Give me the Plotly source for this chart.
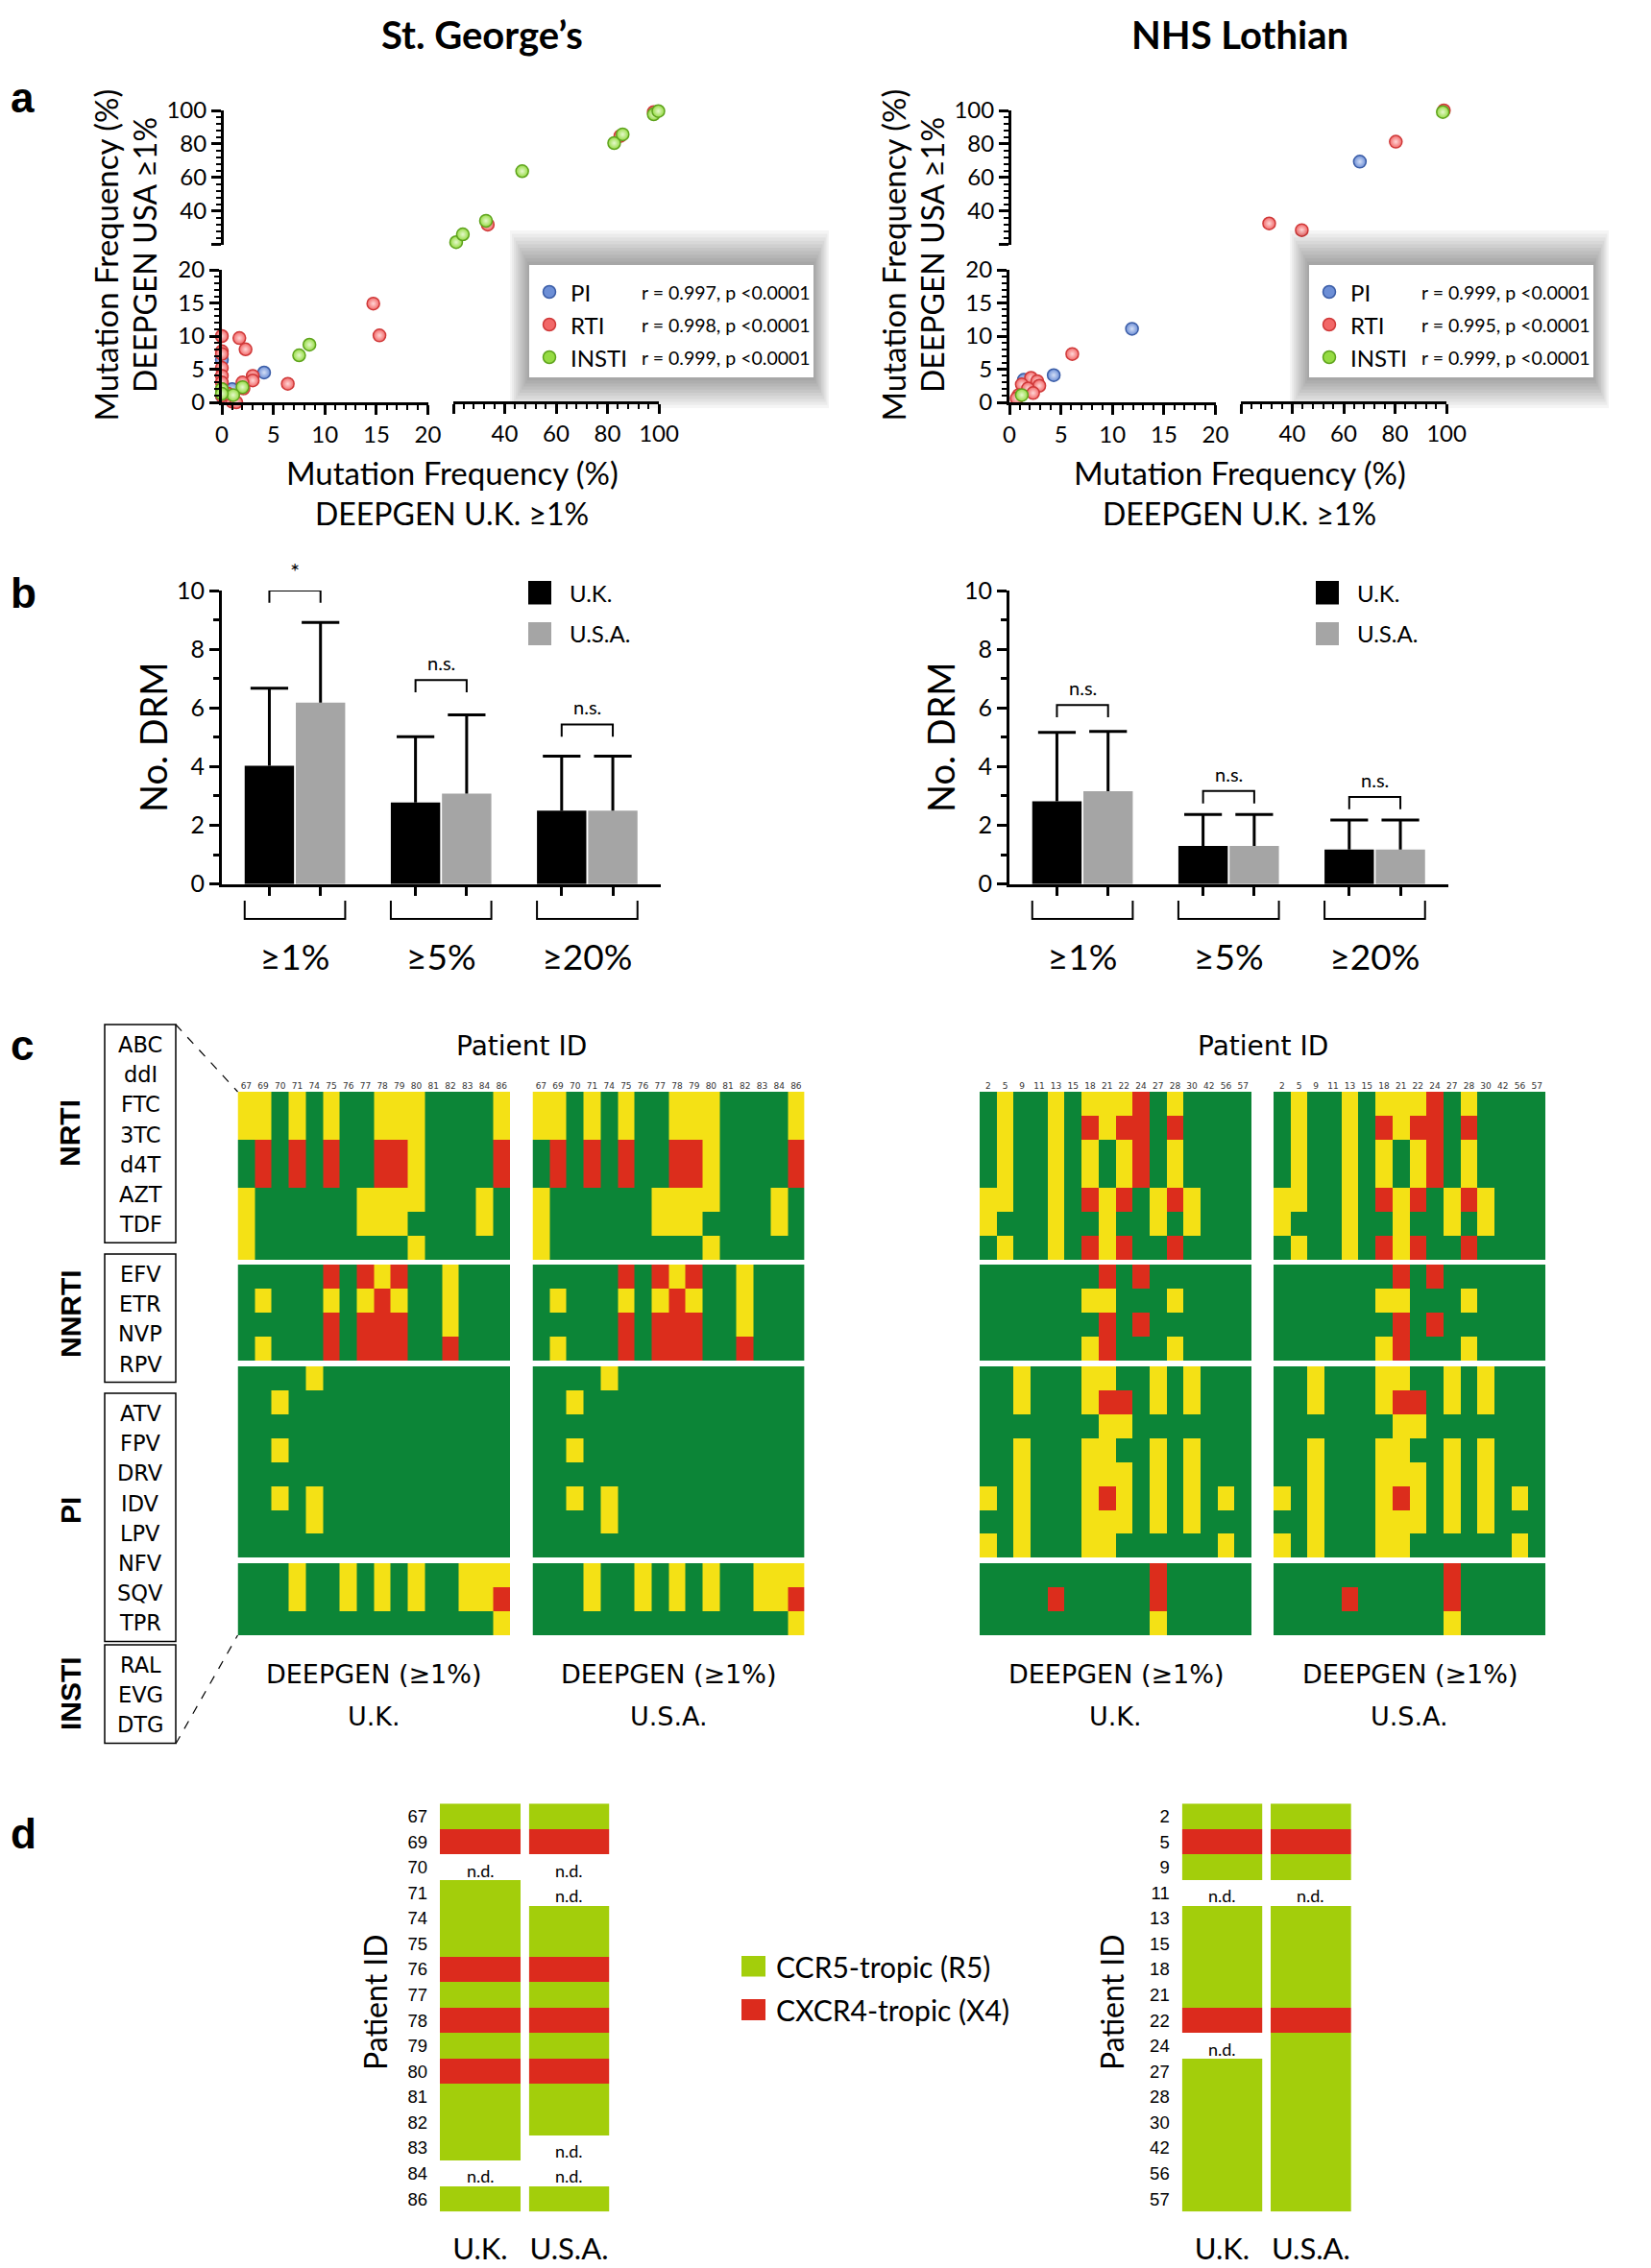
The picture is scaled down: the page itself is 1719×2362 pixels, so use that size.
import plotly.graph_objects as go

W, H = 1719, 2362
SHIFT = 8          # page body margin compensation (px)
LATO = "Lato"
DEJ = "DejaVu Sans"
ARIAL = "Liberation Sans"

# ======================= DATA =======================
# --- Panel a: mutation frequency (%)  U.K. (x) vs U.S.A. (y)
sg_pi_uk = [4.1, 0.0, 1.0, 0.0]
sg_pi_usa = [4.5, 6.4, 2.0, 1.0]
sg_rti_uk = [14.7, 15.3, 6.4, 1.7, 2.3, 0.0, 0.0, 0.0, 0.0, 0.0, 0.0, 0.0, 0.0,
             3.0, 3.0, 2.0, 2.1, 1.0, 1.4, 0.6, 33.4, 85.0, 98.0]
sg_rti_usa = [14.9, 10.1, 2.8, 9.7, 8.0, 10.0, 7.7, 7.3, 5.2, 4.0, 3.0, 2.0, 1.0,
              4.0, 3.3, 3.0, 2.1, 0.1, 0.0, 1.3, 31.8, 84.7, 99.0]
sg_insti_uk = [7.5, 8.5, 2.0, 0.0, 1.1, 0.0, 21.1, 23.7, 32.7, 46.8, 82.6, 85.9, 98.0, 99.8]
sg_insti_usa = [7.1, 8.7, 2.3, 2.0, 1.1, 1.3, 21.3, 26.0, 34.1, 63.7, 80.5, 85.7, 97.7, 99.6]
sg_r = ["0.997", "0.998", "0.999"]

nhs_pi_uk = [66.3, 11.9, 4.3, 1.4]
nhs_pi_usa = [69.4, 11.1, 4.1, 3.4]
nhs_rti_uk = [99.0, 80.3, 31.0, 43.7, 6.1, 2.1, 2.7, 2.9, 1.2, 1.8, 2.3, 0.9, 0.7]
nhs_rti_usa = [100.0, 81.3, 32.5, 28.5, 7.3, 3.7, 3.2, 2.5, 2.7, 2.1, 1.4, 1.1, 0.6]
nhs_insti_uk = [98.6, 1.2]
nhs_insti_usa = [99.0, 1.1]
nhs_r = ["0.999", "0.995", "0.999"]

# --- Panel b: number of DRMs (mean and SD)
thresholds = ["≥1%", "≥5%", "≥20%"]
sg_uk_mean = [4.03, 2.78, 2.50]
sg_uk_sd = [2.64, 2.24, 1.86]
sg_usa_mean = [6.18, 3.08, 2.50]
sg_usa_sd = [2.73, 2.68, 1.86]
sg_sig = ["*", "n.s.", "n.s."]
nhs_uk_mean = [2.82, 1.30, 1.18]
nhs_uk_sd = [2.35, 1.07, 1.00]
nhs_usa_mean = [3.16, 1.30, 1.18]
nhs_usa_sd = [2.04, 1.07, 1.00]
nhs_sig = ["n.s.", "n.s.", "n.s."]

# --- Panel c: resistance level (0 susceptible, 1 low/intermediate, 2 high)
nrti_drugs = ["ABC", "ddI", "FTC", "3TC", "d4T", "AZT", "TDF"]
nnrti_drugs = ["EFV", "ETR", "NVP", "RPV"]
pi_drugs = ["ATV", "FPV", "DRV", "IDV", "LPV", "NFV", "SQV", "TPR"]
insti_drugs = ["RAL", "EVG", "DTG"]
sg_ids = ["67", "69", "70", "71", "74", "75", "76", "77", "78", "79", "80", "81", "82", "83", "84", "86"]
nhs_ids = ["2", "5", "9", "11", "13", "15", "18", "21", "22", "24", "27", "28", "30", "42", "56", "57"]

sg_uk_nrti = ["1101010011100001", "1101010011100001", "0202020022100002", "0202020022100002",
              "1000000111100010", "1000000111000010", "1000000000100000"]
sg_uk_nnrti = ["0000020212001000", "0100010121001000", "0000020222001000", "0100020222002000"]
sg_uk_pi = ["0000100000000000", "0010000000000000", "0000000000000000", "0010000000000000",
            "0000000000000000", "0010100000000000", "0000100000000000", "0000000000000000"]
sg_uk_insti = ["0001001010100111", "0001001010100112", "0000000000000001"]

sg_usa_nrti = ["1101010011100001", "1101010011100001", "0202020022100002", "0202020022100002",
               "1000000111100010", "1000000111000010", "1000000000100000"]
sg_usa_nnrti = ["0000020212001000", "0100010121001000", "0000020222001000", "0100020222002000"]
sg_usa_pi = ["0000100000000000", "0010000000000000", "0000000000000000", "0010000000000000",
             "0000000000000000", "0010100000000000", "0000100000000000", "0000000000000000"]
sg_usa_insti = ["0001001010100111", "0001001010100112", "0000000000000001"]

nhs_uk_nrti = ["0100101112010000", "0100102122020000", "0100101012010000", "0100101012010000",
               "1100102120121000", "1000100100101000", "0100102120020000"]
nhs_uk_nnrti = ["0000000202000000", "0000001100010000", "0000000202000000", "0000001200010000"]
nhs_uk_pi = ["0010001100101000", "0010001220101000", "0000000110000000", "0010001100101000",
             "0010001110101000", "1010001210101010", "0010001110101000", "1010001100000010"]
nhs_uk_insti = ["0000000000200000", "0000200000200000", "0000000000100000"]

nhs_usa_nrti = ["0100101112010000", "0100102122020000", "0100101012010000", "0100101012010000",
                "1100102120121000", "1000100100101000", "0100102120020000"]
nhs_usa_nnrti = ["0000000202000000", "0000001100010000", "0000000202000000", "0000001200010000"]
nhs_usa_pi = ["0010001100101000", "0010001220101000", "0000000110000000", "0010001100101000",
              "0010001110101000", "1010001210101010", "0010001110101000", "1010001100000010"]
nhs_usa_insti = ["0000000000200000", "0000200000200000", "0000000000100000"]

# --- Panel d: co-receptor tropism
sg_trop_uk = ["R5", "X4", "nd", "R5", "R5", "R5", "X4", "R5", "X4", "R5", "X4", "R5", "R5", "R5", "nd", "R5"]
sg_trop_usa = ["R5", "X4", "nd", "nd", "R5", "R5", "X4", "R5", "X4", "R5", "X4", "R5", "R5", "nd", "nd", "R5"]
nhs_trop_uk = ["R5", "X4", "R5", "nd", "R5", "R5", "R5", "R5", "X4", "nd", "R5", "R5", "R5", "R5", "R5", "R5"]
nhs_trop_usa = ["R5", "X4", "R5", "nd", "R5", "R5", "R5", "R5", "X4", "R5", "R5", "R5", "R5", "R5", "R5", "R5"]

# ======================= STYLE =======================
MCOL = {"PI": ("#6d8fd6", "#3a5ca6", "#d3def6"),
        "RTI": ("#f26868", "#cf3838", "#ffd6d6"),
        "INSTI": ("#95db43", "#5ea31c", "#e6f8cc")}
GREY = "#a5a5a5"
C_GREEN, C_YELLOW, C_RED = "#0c8537", "#f4e115", "#dc2d1c"
D_GREEN, D_RED = "#a3ce0b", "#dc2b1d"

fig = go.Figure()
lay = {}
shapes = []
annotations = []


def px2x(px):
    return (px - SHIFT) / W


def px2y(py):
    return 1 - (py - SHIFT) / H


def xa(n):
    return "xaxis" if n == 1 else f"xaxis{n}"


def ya(n):
    return "yaxis" if n == 1 else f"yaxis{n}"


def xr(n):
    return "x" if n == 1 else f"x{n}"


def yr(n):
    return "y" if n == 1 else f"y{n}"


def txt(x, y, s, size, family=LATO, color="black", angle=0, xanchor="center", yanchor="middle"):
    annotations.append(dict(x=px2x(x), y=px2y(y), xref="paper", yref="paper", text=s, showarrow=False,
                            font=dict(size=size, family=family, color=color), textangle=angle,
                            xanchor=xanchor, yanchor=yanchor))


def rect(x0, y0, x1, y1, fill=None, line=None, lw=0):
    shapes.append(dict(type="rect", xref="paper", yref="paper", x0=px2x(x0), x1=px2x(x1),
                       y0=px2y(y1), y1=px2y(y0), fillcolor=fill or "rgba(0,0,0,0)",
                       line=dict(color=line or "rgba(0,0,0,0)", width=lw)))


def seg(x0, y0, x1, y1, color="black", width=2, dash="solid"):
    shapes.append(dict(type="line", xref="paper", yref="paper", x0=px2x(x0), y0=px2y(y0),
                       x1=px2x(x1), y1=px2y(y1), line=dict(color=color, width=width, dash=dash)))


AXA = dict(showline=True, linewidth=3, linecolor="black", ticks="outside", ticklen=10, tickwidth=2.5,
           tickcolor="black", showgrid=False, zeroline=False, automargin=False,
           tickfont=dict(family=LATO, size=24, color="black"))


def minor(d, t0=0):
    return dict(ticks="outside", ticklen=5, tickwidth=2, tickcolor="black", dtick=d, tick0=t0, showgrid=False)


# ======================= PANEL a =======================
A_XL, A_XU, A_YL, A_YU = (231, 445.5), (472, 686), (281, 419), (115, 254.5)


def panel_a(ox, n, series, rvals, lox):
    xl, xu, yl, yu = n, n + 1, n, n + 1
    lay[xa(xl)] = dict(AXA, domain=[px2x(A_XL[0] + ox), px2x(A_XL[1] + ox)], range=[0, 20],
                       anchor=yr(yl), tickvals=[0, 5, 10, 15, 20], minor=minor(1))
    lay[xa(xu)] = dict(AXA, domain=[px2x(A_XU[0] + ox), px2x(A_XU[1] + ox)], range=[20, 100],
                       anchor="free", position=px2y(A_YL[1]), tickvals=[20, 40, 60, 80, 100],
                       ticktext=["", "40", "60", "80", "100"], minor=minor(4, 20))
    lay[ya(yl)] = dict(AXA, domain=[px2y(A_YL[1]), px2y(A_YL[0])], range=[0, 20],
                       anchor=xr(xl), tickvals=[0, 5, 10, 15, 20], minor=minor(1))
    lay[ya(yu)] = dict(AXA, domain=[px2y(A_YU[1]), px2y(A_YU[0])], range=[20, 100],
                       anchor="free", position=px2x(A_XL[0] + ox), tickvals=[20, 40, 60, 80, 100],
                       ticktext=["", "40", "60", "80", "100"], minor=minor(4, 20))
    for name, uk, usa in series:
        fill, edge, center = MCOL[name]
        lo = [(a, b) for a, b in zip(uk, usa) if a <= 20 and b <= 20]
        hi = [(a, b) for a, b in zip(uk, usa) if not (a <= 20 and b <= 20)]
        for pts, xn, yn in ((lo, xl, yl), (hi, xu, yu)):
            if pts:
                fig.add_trace(go.Scatter(
                    x=[p[0] for p in pts], y=[p[1] for p in pts], xaxis=xr(xn), yaxis=yr(yn),
                    mode="markers", cliponaxis=False, hoverinfo="skip", showlegend=False,
                    marker=dict(size=13, color=fill, line=dict(color=edge, width=1.5),
                                gradient=dict(type="radial", color=center))))
    # axis titles
    txt(109.6 + ox, 266, "Mutation Frequency (%)", 33, angle=-90)
    txt(151 + ox, 266, "DEEPGEN USA ≥1%", 32, angle=-90)
    txt(470.5 + ox, 491.7, "Mutation Frequency (%)", 33)
    txt(470.5 + ox, 535, "DEEPGEN U.K. ≥1%", 32)
    # legend box with shadow
    bx0, bx1, by0, by1 = 551 + lox, 847 + lox, 276, 393
    for i in range(10, 0, -1):
        rect(bx0 - 2 * i, by0 - 3.6 * i, bx1 + 1.6 * i, by1 + 3.2 * i, fill="rgba(0,0,0,0.04)")
    rect(bx0, by0, bx1, by1, fill="white")
    for k, (name, r) in enumerate(zip(["PI", "RTI", "INSTI"], rvals)):
        cy = 304 + 34 * k
        fill, edge, center = MCOL[name]
        shapes.append(dict(type="circle", xref="paper", yref="paper",
                           x0=px2x(572 + lox - 6.5), x1=px2x(572 + lox + 6.5),
                           y0=px2y(cy + 6.5), y1=px2y(cy - 6.5),
                           fillcolor=fill, line=dict(color=edge, width=1.5)))
        txt(592 + lox, cy, name, 24, xanchor="left")
        txt(666 + lox, cy, f"r = {r}, p <0.0001", 19.5, xanchor="left")


panel_a(0, 1, [("PI", sg_pi_uk, sg_pi_usa), ("RTI", sg_rti_uk, sg_rti_usa),
               ("INSTI", sg_insti_uk, sg_insti_usa)], sg_r, 0)
panel_a(820, 3, [("PI", nhs_pi_uk, nhs_pi_usa), ("RTI", nhs_rti_uk, nhs_rti_usa),
                 ("INSTI", nhs_insti_uk, nhs_insti_usa)], nhs_r, 812)

# ======================= PANEL b =======================
B_X, B_Y = (231, 687.5), (615, 920.7)
BARGAP, GROUPGAP = 0.30, 0.035
OFF = (1 - BARGAP) / 4            # centre offset of each bar within a group
HALF = OFF * (1 - GROUPGAP)       # half bar width


def panel_b(ox, xn, yn, uk_m, uk_sd, usa_m, usa_sd, sig, br_top):
    lay[xa(xn)] = dict(type="category", domain=[px2x(B_X[0] + ox), px2x(B_X[1] + ox)], range=[-0.5, 2.5],
                       anchor=yr(yn), showline=True, linewidth=3, linecolor="black", ticks="",
                       showgrid=False, zeroline=False, ticklabelstandoff=42, automargin=False,
                       tickfont=dict(family=LATO, size=37, color="black"))
    lay[xa(xn + 1)] = dict(overlaying=xr(xn), anchor=yr(yn), range=[-0.5, 2.5],
                           tickvals=[i + s * OFF for i in range(3) for s in (-1, 1)],
                           ticks="outside", ticklen=11, tickwidth=3, tickcolor="black", automargin=False,
                           showticklabels=False, showline=False, showgrid=False, zeroline=False)
    lay[ya(yn)] = dict(domain=[px2y(B_Y[1]), px2y(B_Y[0])], range=[0, 10], anchor=xr(xn),
                       showline=True, linewidth=3, linecolor="black", ticks="outside", ticklen=10,
                       tickwidth=3, tickcolor="black", tickvals=[0, 2, 4, 6, 8, 10], automargin=False,
                       minor=dict(ticks="outside", ticklen=6, tickwidth=3, tickcolor="black", dtick=1),
                       showgrid=False, zeroline=False, tickfont=dict(family=LATO, size=25, color="black"))
    for mean, sd, color in ((uk_m, uk_sd, "black"), (usa_m, usa_sd, GREY)):
        fig.add_trace(go.Bar(x=thresholds, y=mean, xaxis=xr(xn), yaxis=yr(yn),
                             marker=dict(color=color, line=dict(width=0)), showlegend=False,
                             hoverinfo="skip",
                             error_y=dict(type="data", symmetric=False, array=sd,
                                          arrayminus=[0] * len(sd), width=0, thickness=3, color="black")))
    for s, mean, sd in ((-1, uk_m, uk_sd), (1, usa_m, usa_sd)):
        fig.add_trace(go.Scatter(x=[i + s * OFF for i in range(len(mean))],
                                 y=[m + d for m, d in zip(mean, sd)], xaxis=xr(xn + 1), yaxis=yr(yn),
                                 mode="markers", cliponaxis=False, hoverinfo="skip", showlegend=False,
                                 marker=dict(symbol="line-ew", size=28, color="black",
                                             line=dict(width=3, color="black"))))
    for i, (lab, top) in enumerate(zip(sig, br_top)):
        x0, x1 = i - OFF, i + OFF
        shapes.append(dict(type="path", xref=xr(xn + 1), yref=yr(yn),
                           path=f"M {x0},{top - 0.42} L {x0},{top} L {x1},{top} L {x1},{top - 0.42}",
                           line=dict(color="black", width=2)))
        annotations.append(dict(x=i, y=min(top, 9.99), xref=xr(xn + 1), yref=yr(yn), text=lab,
                                showarrow=False, yanchor="bottom", yshift=4,
                                font=dict(family=LATO, size=24 if lab == "*" else 20, color="black")))
        g0, g1 = i - OFF - HALF, i + OFF + HALF
        shapes.append(dict(type="path", xref=xr(xn + 1), yref="paper",
                           path=f"M {g0},{px2y(938)} L {g0},{px2y(957)} L {g1},{px2y(957)} L {g1},{px2y(938)}",
                           line=dict(color="black", width=2)))
    rect(550 + ox, 605, 574 + ox, 629.5, fill="black")
    rect(550 + ox, 648, 574 + ox, 672, fill=GREY)
    txt(591 + ox, 617, "U.K.", 24, xanchor="left")
    txt(591 + ox, 660, "U.S.A.", 24, xanchor="left")
    txt(159 + ox, 768, "No. DRM", 38, angle=-90)


panel_b(0, 5, 5, sg_uk_mean, sg_uk_sd, sg_usa_mean, sg_usa_sd, sg_sig, [10.0, 6.95, 5.44])
panel_b(820, 7, 6, nhs_uk_mean, nhs_uk_sd, nhs_usa_mean, nhs_usa_sd, nhs_sig, [6.1, 3.17, 2.97])

# ======================= PANEL c =======================
C_Y = (1137, 1703)
GAP = 0.229
YC = 7
CS_C = [[0, C_GREEN], [1 / 3, C_GREEN], [1 / 3, C_YELLOW], [2 / 3, C_YELLOW], [2 / 3, C_RED], [1, C_RED]]


def block_matrix(blocks):
    z, edges = [], [0.0]
    for bi, blk in enumerate(blocks):
        for row in blk:
            z.append([int(c) for c in row])
            edges.append(edges[-1] + 1)
        if bi < len(blocks) - 1:
            z.append([None] * len(blk[0]))
            edges.append(edges[-1] + GAP)
    return z, edges


def heat_c(x0, x1, xn, ids, blocks):
    z, edges = block_matrix(blocks)
    lay[xa(xn)] = dict(type="category", domain=[px2x(x0), px2x(x1)], anchor=yr(YC), side="top",
                       range=[-0.5, len(ids) - 0.5], dtick=1, automargin=False,
                       ticks="", showline=False, showgrid=False, zeroline=False,
                       tickfont=dict(family=DEJ, size=9, color="#333333"))
    fig.add_trace(go.Heatmap(z=z, x=ids, y=edges, xaxis=xr(xn), yaxis=yr(YC), colorscale=CS_C,
                             zmin=0, zmax=2, showscale=False, hoverinfo="skip"))
    return edges[-1]


ytot = heat_c(247.5, 531, 9, sg_ids, [sg_uk_nrti, sg_uk_nnrti, sg_uk_pi, sg_uk_insti])
heat_c(554.5, 837.7, 10, sg_ids, [sg_usa_nrti, sg_usa_nnrti, sg_usa_pi, sg_usa_insti])
heat_c(1020, 1303, 11, nhs_ids, [nhs_uk_nrti, nhs_uk_nnrti, nhs_uk_pi, nhs_uk_insti])
heat_c(1326, 1609, 12, nhs_ids, [nhs_usa_nrti, nhs_usa_nnrti, nhs_usa_pi, nhs_usa_insti])
lay[ya(YC)] = dict(domain=[px2y(C_Y[1]), px2y(C_Y[0])], range=[ytot, 0], anchor=xr(9), visible=False,
                   automargin=False)

txt(542.5, 1089, "Patient ID", 28, family=DEJ)
txt(1314.5, 1089, "Patient ID", 28, family=DEJ)
for cx, lab in ((389, "U.K."), (696, "U.S.A."), (1161.5, "U.K."), (1467.5, "U.S.A.")):
    txt(cx, 1743, "DEEPGEN (≥1%)", 27, family=DEJ)
    txt(cx, 1787, lab, 27, family=DEJ)

classes = [("NRTI", nrti_drugs, 1067, 1180), ("NNRTI", nnrti_drugs, 1306, 1368),
           ("PI", pi_drugs, 1451, 1573), ("INSTI", insti_drugs, 1713, 1764)]
for name, drugs, top, gy in classes:
    bottom = top + 40 + (len(drugs) - 1) * 31.2
    rect(109, top, 183, bottom, line="black", lw=1.5)
    for k, d in enumerate(drugs):
        txt(146, top + 21 + 31.2 * k, d, 22.5, family=DEJ)
    txt(73, gy, f"<b>{name}</b>", 30, family=ARIAL, angle=-90)
seg(183, 1067, 247.5, 1137, width=1.2, dash="dash")
seg(183, 1816, 247.5, 1703, width=1.2, dash="dash")

# ======================= PANEL d =======================
D_Y = (1878.3, 2303.3)
CS_D = [[0, D_GREEN], [0.5, D_GREEN], [0.5, D_RED], [1, D_RED]]
TROP = {"R5": 0, "X4": 1, "nd": None}


def panel_d(cols, yn, ids, title_x):
    n = len(ids)
    rows = list(range(n))          # row order of the patients as listed
    lay[ya(yn)] = dict(domain=[px2y(D_Y[1]), px2y(D_Y[0])], range=[n - 0.5, -0.5],
                       autorange=False, tickmode="array", tickvals=rows, ticktext=ids,
                       anchor=xr(cols[0][2]), showline=False, ticks="", showgrid=False, zeroline=False,
                       ticklabelstandoff=12, automargin=False,
                       tickfont=dict(family=ARIAL, size=18.5, color="black"))
    for x0, x1, xn, label, trop in cols:
        lay[xa(xn)] = dict(domain=[px2x(x0), px2x(x1)], anchor=yr(yn), ticks="",
                           range=[-0.5, 0.5], autorange=False, automargin=False,
                           tickmode="array", tickvals=[0], ticktext=[label],
                           showline=False, showgrid=False, zeroline=False, ticklabelstandoff=18,
                           tickfont=dict(family=LATO, size=31, color="black"))
        fig.add_trace(go.Heatmap(z=[[TROP[t]] for t in trop], x=[0], y=rows, xaxis=xr(xn),
                                 yaxis=yr(yn), colorscale=CS_D, zmin=0, zmax=1, showscale=False,
                                 hoverinfo="skip"))
        for k, t in zip(rows, trop):
            if t == "nd":
                annotations.append(dict(x=0, y=k, xref=xr(xn), yref=yr(yn), text="n.d.",
                                        showarrow=False, yshift=-3,
                                        font=dict(family=LATO, size=18, color="black")))
    txt(title_x, 2085, "Patient ID", 32, angle=-90)


panel_d([(458, 542, 13, "U.K.", sg_trop_uk), (550.7, 634.3, 14, "U.S.A.", sg_trop_usa)], 8, sg_ids, 390)
panel_d([(1230.7, 1314.3, 15, "U.K.", nhs_trop_uk), (1323, 1406.7, 16, "U.S.A.", nhs_trop_usa)], 9,
        nhs_ids, 1157)

rect(772, 2037, 797, 2058.5, fill=D_GREEN)
rect(772, 2082, 797, 2104, fill=D_RED)
txt(806, 2047.5, "CCR5-tropic (R5)", 30, xanchor="left")
txt(806, 2093, "CXCR4-tropic (X4)", 30, xanchor="left")

# ======================= TITLES & LETTERS =======================
txt(502, 36, "<b>St. George’s</b>", 40)
txt(1291, 36, "<b>NHS Lothian</b>", 40)
for letter, y in (("a", 102), ("b", 618), ("c", 1088), ("d", 1909)):
    txt(9, y, f"<b>{letter}</b>", 44, family=ARIAL, xanchor="left")

fig.update_layout(width=W, height=H, autosize=False,
                  margin=dict(l=0, r=0, t=0, b=0, pad=0, autoexpand=False),
                  paper_bgcolor="white", plot_bgcolor="white", showlegend=False,
                  barmode="group", bargap=BARGAP, bargroupgap=GROUPGAP,
                  shapes=shapes, annotations=annotations, **lay)
fig.write_html("out.html")
